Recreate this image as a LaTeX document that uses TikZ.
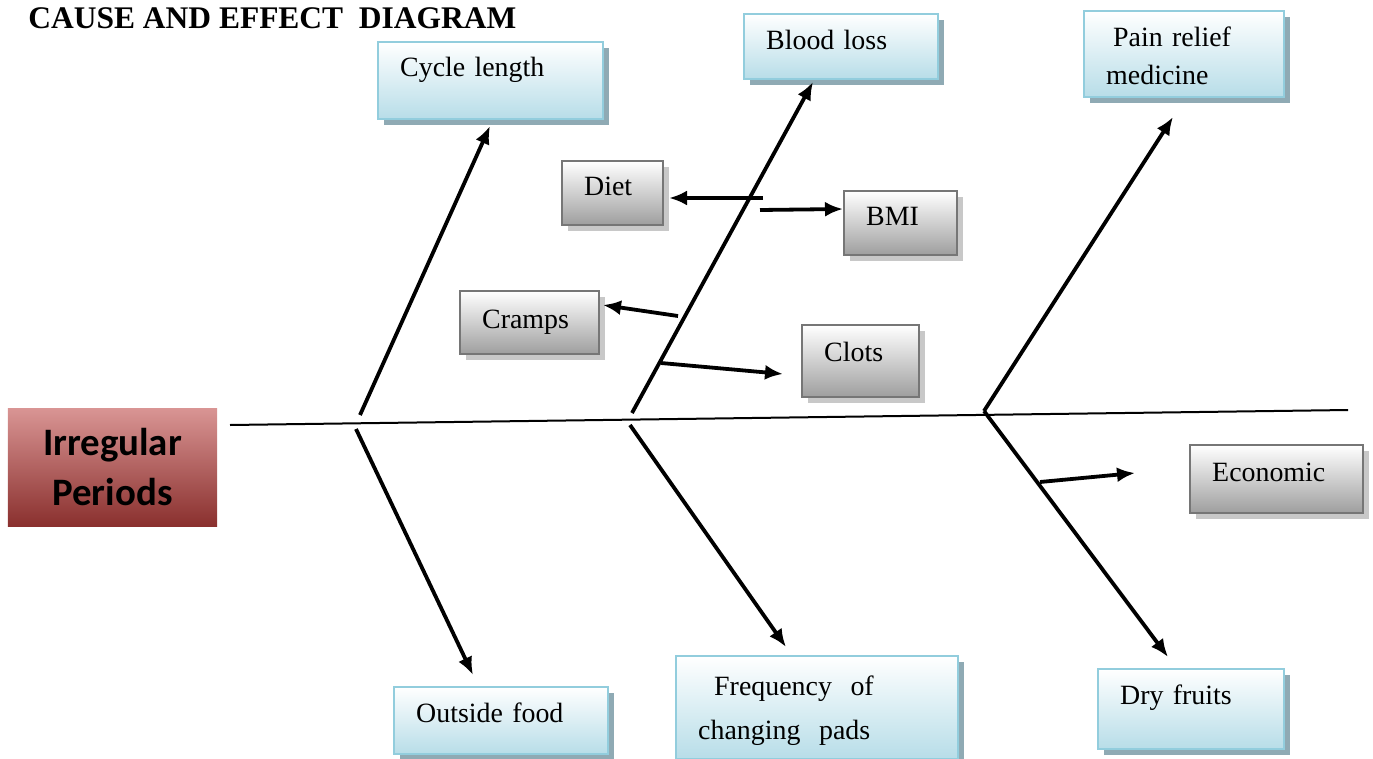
\documentclass[tikz,border=0pt]{standalone}
\usepackage{fontspec}
\setmainfont{Liberation Serif}
\newfontfamily\headfont{Carlito}
\usetikzlibrary{arrows.meta,shadows}

\definecolor{aquaBottom}{RGB}{183,221,232}
\definecolor{aquaLine}{RGB}{146,205,221}
\definecolor{aquaShadow}{RGB}{143,170,180}
\definecolor{greyBottom}{RGB}{158,158,158}
\definecolor{greyLine}{RGB}{118,118,118}
\definecolor{greyShadow}{RGB}{200,200,200}
\definecolor{headTop}{RGB}{217,149,148}
\definecolor{headMid}{RGB}{190,82,80}
\definecolor{headBottom}{RGB}{138,48,46}

\begin{document}
\begin{tikzpicture}[x=0.5bp,y=-0.5bp,>={Latex[length=9bp,width=7.5bp]}]
 \tikzstyle{causebox}=[draw=aquaLine,line width=1.2bp,top color=white,bottom color=aquaBottom,
   drop shadow={shadow xshift=3bp,shadow yshift=-3bp,fill=aquaShadow,opacity=1},
   anchor=north west,align=left,inner xsep=11bp,inner ysep=0pt,font=\fontsize{14}{19}\selectfont]
 \tikzstyle{subbox}=[draw=greyLine,line width=1.2bp,top color=white,bottom color=greyBottom,
   drop shadow={shadow xshift=3bp,shadow yshift=-3bp,fill=greyShadow,opacity=1},
   anchor=north west,align=left,inner xsep=11bp,inner ysep=0pt,font=\fontsize{14}{19}\selectfont]
 \tikzstyle{bone}=[line width=1.9bp]
 \useasboundingbox (0,0) rectangle (1373,758);

 \node (title) at (28,28) [anchor=base west,inner sep=0pt,font=\fontsize{15.8}{18}\selectfont\bfseries] {CAUSE AND EFFECT\ \ DIAGRAM};

 % effect
 \node (head) at (112.5,467) [minimum width=104.5bp,minimum height=59bp,inner sep=0pt,
   top color=headTop,middle color=headMid,bottom color=headBottom,align=center,
   font=\headfont\bfseries\fontsize{19.5}{25}\selectfont] {Irregular\\Periods};

 % main causes
 \node (cycle) at (377,41) [causebox,text width=90.5bp,text height=17bp,text depth=21.5bp] {Cycle length};
 \node (blood) at (743,13) [causebox,text width=75bp,text height=17.5bp,text depth=15bp] {Blood loss};
 \node (pain) at (1083,10) [causebox,text width=78bp,text height=17.5bp,text depth=25.5bp] {\hspace*{3.5bp}Pain relief\\medicine};
 \node (food) at (393,686) [causebox,text width=85bp,text height=17.5bp,text depth=16bp] {Outside food};
 \node (pads) at (675,655) [causebox,text width=119bp,text height=19.5bp,text depth=32bp,
   font=\fontsize{14}{22}\selectfont] {\hspace*{8bp}Frequency\ \ of\\changing\ \ pads};
 \node (fruits) at (1097,668) [causebox,text width=71bp,text height=17.5bp,text depth=22.5bp] {Dry fruits};

 % sub causes
 \node (diet) at (561,160) [subbox,text width=28.5bp,text height=17bp,text depth=15bp] {Diet};
 \node (bmi) at (843,190) [subbox,text width=34.5bp,text height=17bp,text depth=15bp] {BMI};
 \node (cramps) at (459,290) [subbox,text width=47.5bp,text height=18.5bp,text depth=13bp] {Cramps};
 \node (clots) at (801,324) [subbox,text width=36.5bp,text height=18bp,text depth=18bp] {Clots};
 \node (econ) at (1189,444) [subbox,text width=64.5bp,text height=18bp,text depth=16bp] {Economic};

 % spine and joints
 \coordinate (spineL) at (230,425);
 \coordinate (spineR) at (1348,410);
 \coordinate (jA) at (360,415);
 \coordinate (jB) at (356,429);
 \coordinate (jC) at (632,413);
 \coordinate (jD) at (630,425);
 \coordinate (jE) at (984,411);

 % arrow ends
 \coordinate (tCycle) at (490,126);
 \coordinate (tFood) at (473,675);
 \coordinate (tBlood) at (813,82);
 \coordinate (tPads) at (786,647);
 \coordinate (tPain) at (1173,117);
 \coordinate (tFruits) at (1168,657);

 \coordinate (sDiet) at (763,198);
 \coordinate (eDiet) at (669,198);
 \coordinate (sBmi) at (760,210);
 \coordinate (eBmi) at (843,209);
 \coordinate (sCramps) at (678,316);
 \coordinate (eCramps) at (603,305);
 \coordinate (sClots) at (661,363);
 \coordinate (eClots) at (783,374);
 \coordinate (sEcon) at (1040,482);
 \coordinate (eEcon) at (1135,473);

 \draw [line width=1bp] (spineL) -- (spineR);

 \draw [->,bone] (jA) -- (tCycle);
 \draw [->,bone] (jB) -- (tFood);
 \draw [->,bone] (jC) -- (tBlood);
 \draw [->,bone] (jD) -- (tPads);
 \draw [->,bone] (jE) -- (tPain);
 \draw [->,bone] (jE) -- (tFruits);

 \draw [->,bone] (sDiet) -- (eDiet);
 \draw [->,bone] (sBmi) -- (eBmi);
 \draw [->,bone] (sCramps) -- (eCramps);
 \draw [->,bone] (sClots) -- (eClots);
 \draw [->,bone] (sEcon) -- (eEcon);
\end{tikzpicture}
\end{document}
